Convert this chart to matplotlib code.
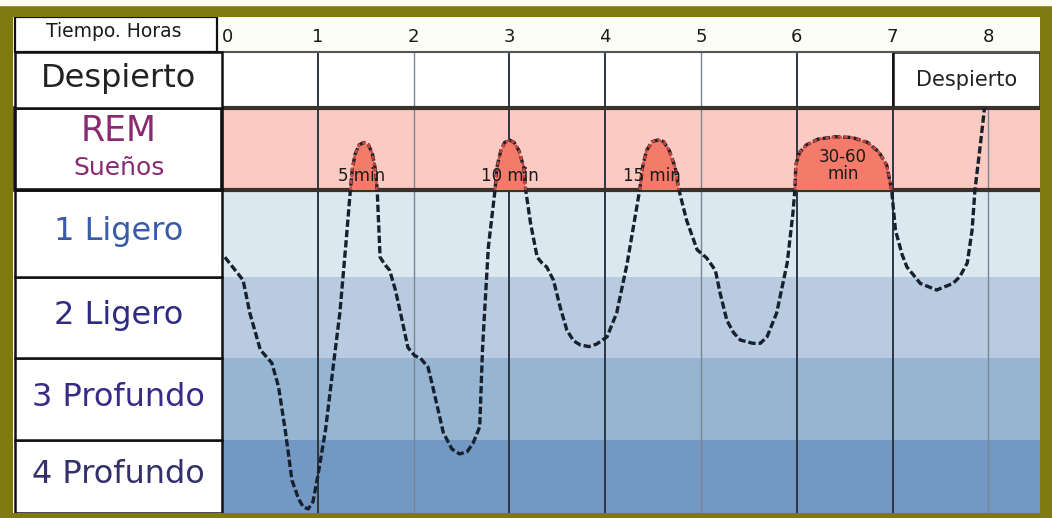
import numpy as np
import matplotlib
matplotlib.use("Agg")
import matplotlib.pyplot as plt
from matplotlib.patches import Rectangle

# ---------------- data ----------------
hour_ticks = [0, 1, 2, 3, 4, 5, 6, 7, 8]
hour_labels = ["0", "1", "2", "3", "4", "5", "6", "7", "8"]
dark_hours = [1, 3, 4, 6, 7]
light_hours = [2, 5, 8]

stage_labels = ["4 Profundo", "3 Profundo", "2 Ligero", "1 Ligero", "REM", "Despierto"]
stage_colors = ["#7398c3", "#95b5d2", "#b8cbe0", "#dce8f0", "#fbcac3", "#ffffff"]
label_colors = ["#34306a", "#3a2a88", "#2e2c80", "#3a5aaa", "#8a2a72", "#222222"]
# row edges (vertical scale, bottom to top)
row_edges = [0.0, 0.89, 1.89, 2.88, 3.94, 4.94, 5.62, 6.05]

# hypnogram: time (hours) vs depth level
hours = [0.03, 0.22, 0.29, 0.40, 0.52, 0.59, 0.66, 0.73, 0.80, 0.85, 0.90, 0.95,
         1.00, 1.08, 1.16, 1.23, 1.29, 1.34,
         1.36, 1.39, 1.43, 1.48, 1.53, 1.57, 1.60, 1.62,
         1.63, 1.65, 1.70, 1.75, 1.81, 1.88, 1.94, 2.01, 2.07, 2.15, 2.20, 2.31,
         2.40, 2.48, 2.56, 2.62, 2.69, 2.72, 2.78, 2.85,
         2.87, 2.91, 2.95, 3.00, 3.05, 3.10, 3.15, 3.17,
         3.22, 3.29, 3.34, 3.39, 3.46, 3.53, 3.60, 3.67, 3.74, 3.83, 3.91, 4.02,
         4.12, 4.23, 4.36,
         4.39, 4.43, 4.49, 4.55, 4.61, 4.67, 4.73, 4.77,
         4.85, 4.96, 5.06, 5.15, 5.20, 5.27, 5.34, 5.41, 5.54, 5.62, 5.69, 5.79,
         5.90, 5.96, 5.98,
         5.99, 6.03, 6.10, 6.22, 6.40, 6.58, 6.74, 6.86, 6.94, 6.99,
         7.03, 7.10, 7.15, 7.29, 7.46, 7.63, 7.70, 7.78, 7.83, 7.86, 7.91, 7.96]
depth = [3.12, 2.84, 2.44, 1.99, 1.83, 1.54, 1.01, 0.40, 0.17, 0.07, 0.05, 0.14,
         0.45, 1.01, 1.78, 2.44, 3.24, 3.94,
         4.20, 4.38, 4.49, 4.52, 4.49, 4.38, 4.20, 3.94,
         3.66, 3.12, 3.03, 2.96, 2.72, 2.35, 2.02, 1.92, 1.89, 1.78, 1.54, 0.98,
         0.78, 0.72, 0.75, 0.85, 1.05, 2.02, 3.24, 3.94,
         4.22, 4.42, 4.52, 4.55, 4.52, 4.42, 4.22, 3.94,
         3.54, 3.12, 3.05, 3.00, 2.84, 2.51, 2.23, 2.10, 2.05, 2.03, 2.06, 2.15,
         2.44, 3.05, 3.94,
         4.22, 4.42, 4.53, 4.55, 4.53, 4.42, 4.22, 3.94,
         3.57, 3.21, 3.11, 2.96, 2.68, 2.35, 2.20, 2.11, 2.07, 2.07, 2.15, 2.44,
         3.05, 3.66, 3.94,
         4.25, 4.40, 4.49, 4.56, 4.59, 4.58, 4.52, 4.40, 4.24, 3.94,
         3.45, 3.15, 3.00, 2.80, 2.72, 2.80, 2.88, 3.05, 3.45, 3.94, 4.43, 4.94]

rem_notes = ["5 min", "10 min", "15 min", "30-60\nmin"]
rem_note_x = [1.46, 3.00, 4.49, 6.48]
rem_note_y = [4.11, 4.11, 4.11, 4.24]

# ---------------- figure ----------------
W, H = 1052, 518
fig = plt.figure(figsize=(W / 100, H / 100), dpi=100, facecolor="#7f7a10")
fig.patches.append(Rectangle((0, 1 - 5 / H), 1, 5 / H, transform=fig.transFigure,
                             color="#fbfbee", zorder=0))
ax = fig.add_axes([13 / W, 5 / H, (1040 - 13) / W, (513 - 17) / H])
x_left, x_right = -2.182, 8.539
ax.set_xlim(x_left, x_right)
ax.set_ylim(0, row_edges[-1])
ax.axis("off")
ax.add_patch(Rectangle((x_left, 0), x_right - x_left, row_edges[-1], color="#fdfdf8", zorder=0))

# stage bands
for i in range(6):
    ax.add_patch(Rectangle((0, row_edges[i]), x_right, row_edges[i + 1] - row_edges[i],
                           color=stage_colors[i], zorder=1, lw=0))

# hour grid lines
ax.vlines(dark_hours, 0, row_edges[6], color="#2c3642", lw=1.4, zorder=2)
ax.vlines(light_hours, 0, row_edges[6], color="#7a8590", lw=1.0, zorder=2)

# awake box at the end
ax.add_patch(Rectangle((7, row_edges[5]), x_right - 7, row_edges[6] - row_edges[5],
                       facecolor="#ffffff", edgecolor="#111111", lw=1.8, zorder=3))
ax.text(7.77, (row_edges[5] + row_edges[6]) / 2, "Despierto", fontsize=15,
        ha="center", va="center", color="#222222", zorder=4)

# horizontal separators
ax.hlines(row_edges[6], x_left + 0.02, x_right, color="#555555", lw=1.5, zorder=3)
ax.hlines([row_edges[5], row_edges[4]], 0, x_right, color="#3a302c", lw=3, zorder=3)

# REM bumps fill
h = np.array(hours)
d = np.array(depth)
rem_mask = (d >= row_edges[4]) & (h < 7.5)
ax.fill_between(h, d, row_edges[4], where=rem_mask, color="#f47b69", zorder=3, lw=0)

# hypnogram line
ax.plot(h, d, color="#17212e", lw=2.4, linestyle=(0, (2.2, 0.9)), zorder=5,
        solid_capstyle="butt")
ax.plot(h, np.where(rem_mask, d, np.nan), color="#c9473c", lw=1.8,
        linestyle=(0, (1.5, 1.0)), zorder=6)

for txt, x, y in zip(rem_notes, rem_note_x, rem_note_y):
    ax.text(x, y, txt, fontsize=12, ha="center", va="center", color="#1a1a1a",
            zorder=7, linespacing=0.95)

# left label column
lab_x0 = -2.161
for i in range(6):
    lw = 2.6 if stage_labels[i] == "REM" else 1.8
    ax.add_patch(Rectangle((lab_x0, row_edges[i]), 0 - lab_x0, row_edges[i + 1] - row_edges[i],
                           facecolor="#ffffff", edgecolor="#111111", lw=lw, zorder=4))
    cy = (row_edges[i] + row_edges[i + 1]) / 2
    if stage_labels[i] == "REM":
        ax.text(-1.08, 4.66, "REM", fontsize=25, ha="center", va="center",
                color=label_colors[i], zorder=5)
        ax.text(-1.08, 4.21, "Sueños", fontsize=18, ha="center", va="center",
                color=label_colors[i], zorder=5)
    else:
        ax.text(-1.08, cy + 0.02, stage_labels[i], fontsize=23, ha="center", va="center",
                color=label_colors[i], zorder=5)

# header
ax.add_patch(Rectangle((lab_x0, row_edges[6]), -0.05 - lab_x0, row_edges[7] - row_edges[6],
                       facecolor="#ffffff", edgecolor="#111111", lw=1.6, zorder=4))
ax.text(-1.13, 5.87, "Tiempo. Horas", fontsize=13.5, ha="center", va="center",
        color="#1a1a1a", zorder=5)
for t, lab in zip(hour_ticks, hour_labels):
    ax.text(t + (0.06 if t == 0 else 0), 5.80, lab, fontsize=13, ha="center",
            va="center", color="#1a1a1a", zorder=5)

fig.savefig("out.png", dpi=100, facecolor=fig.get_facecolor())
